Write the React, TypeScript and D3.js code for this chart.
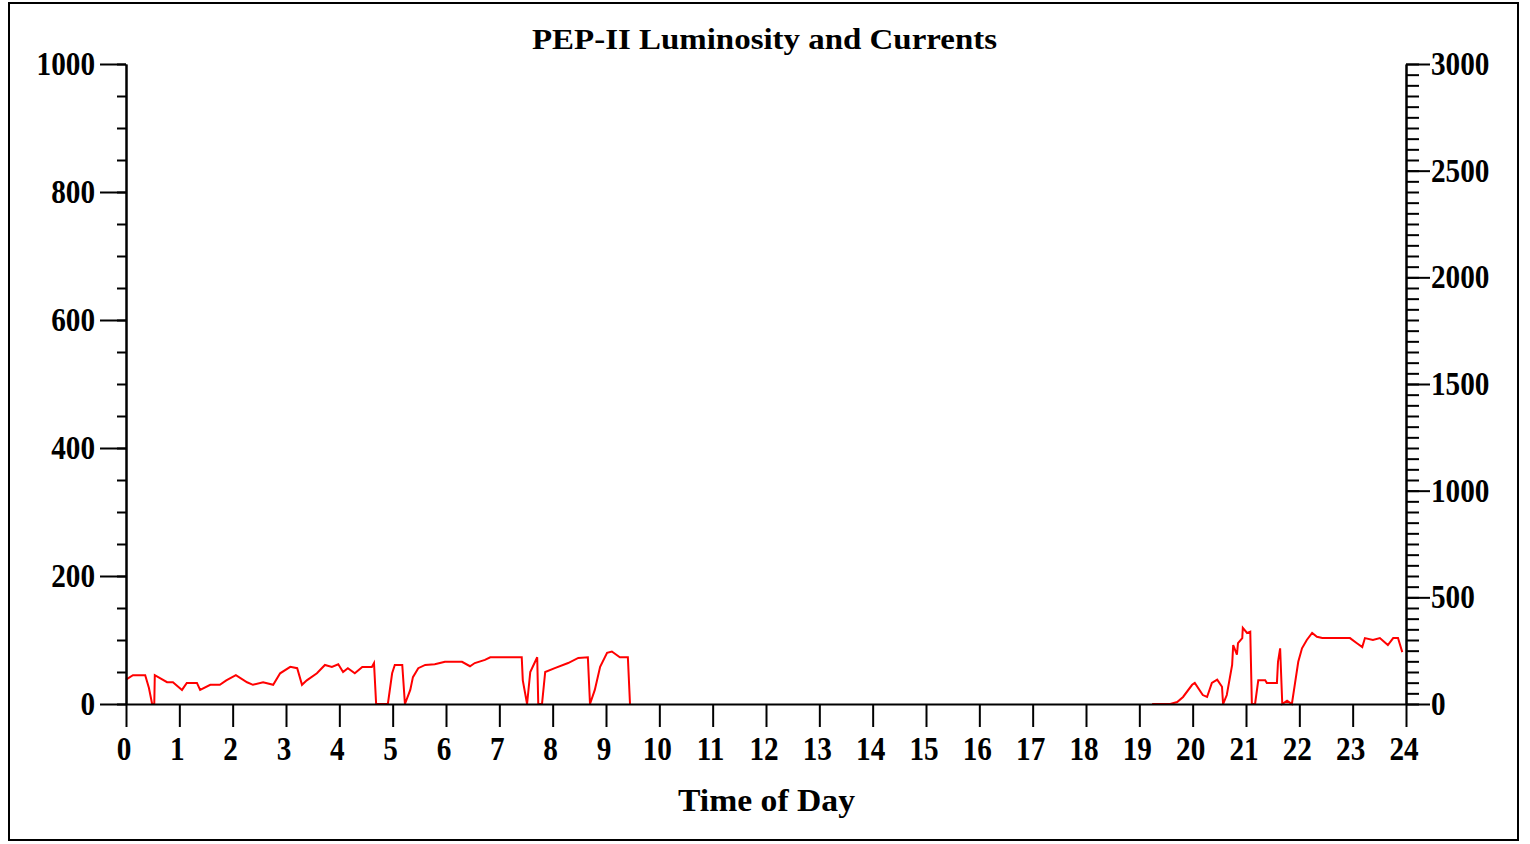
import { useEffect, useRef } from 'react';
import * as d3 from 'd3';

const hourTicks = d3.range(0, 25);
const leftTicks = [0, 200, 400, 600, 800, 1000];
const rightTicks = [0, 500, 1000, 1500, 2000, 2500, 3000];

// morning fill (hour of day, value on left axis)
const morningHours = [
  0.0, 0.13, 0.36, 0.43, 0.49, 0.53, 0.54, 0.77, 0.88, 1.05, 1.14, 1.33, 1.39, 1.58, 1.76, 1.88,
  2.06, 2.27, 2.38, 2.57, 2.76, 2.89, 3.08, 3.21, 3.3, 3.39, 3.58, 3.73, 3.86, 3.98, 4.07, 4.16,
  4.29, 4.43, 4.61, 4.65, 4.69, 4.91, 4.99, 5.04, 5.18, 5.23, 5.33, 5.38, 5.48, 5.61, 5.79, 5.98,
  6.3, 6.45, 6.54, 6.73, 6.83, 7.29, 7.42, 7.44, 7.52, 7.58, 7.71, 7.73, 7.8, 7.86, 8.04, 8.29,
  8.48, 8.66, 8.7, 8.79, 8.89, 9.02, 9.11, 9.26, 9.41, 9.45,
];
const morningValues = [
  38, 45, 45, 25, 0, 0, 45, 34, 34, 22, 33, 33, 22, 30, 30, 37,
  45, 34, 30, 34, 30, 48, 58, 56, 30, 37, 48, 61, 58, 62, 50, 56,
  48, 58, 58, 64, 0, 0, 48, 61, 61, 0, 22, 42, 56, 61, 62, 66,
  66, 59, 64, 69, 73, 73, 73, 37, 0, 50, 73, 0, 0, 50, 56, 64,
  72, 73, 0, 22, 58, 80, 82, 73, 73, 0,
];

// evening fill
const eveningHours = [
  19.24, 19.29, 19.58, 19.71, 19.82, 19.99, 20.04, 20.19, 20.27, 20.36, 20.46, 20.55, 20.57, 20.64,
  20.74, 20.76, 20.83, 20.85, 20.93, 20.94, 21.02, 21.08, 21.11, 21.17, 21.23, 21.36, 21.39, 21.58,
  21.6, 21.64, 21.68, 21.77, 21.86, 21.92, 21.98, 22.05, 22.14, 22.24, 22.33, 22.43, 22.95, 23.08,
  23.18, 23.23, 23.38, 23.51, 23.66, 23.76, 23.85, 23.93,
];
const eveningValues = [
  0, 0, 0, 3, 11, 30, 33, 14, 11, 33, 38, 27, 0, 14,
  61, 92, 77, 95, 103, 119, 111, 113, 0, 0, 37, 37, 33, 33,
  66, 87, 0, 5, 0, 33, 66, 87, 100, 111, 105, 103, 103, 95,
  89, 103, 100, 103, 92, 103, 103, 81,
];

const FONT = "'Liberation Serif', 'Times New Roman', serif";
const SX = 0.86;

export default function App() {
  const svgRef = useRef<SVGSVGElement>(null);

  useEffect(() => {
    if (!svgRef.current) return;
    const width = 1530;
    const height = 844;
    const left = 126, right = 1406, top = 64, bottom = 704;

    d3.select(svgRef.current).selectAll('*').remove();
    const svg = d3.select(svgRef.current).attr('width', width).attr('height', height);

    svg.append('rect').attr('width', width).attr('height', height).attr('fill', '#fff');

    // frame
    svg.append('rect')
      .attr('x', 9).attr('y', 3).attr('width', 1509).attr('height', 837)
      .attr('fill', 'none').attr('stroke', '#000').attr('stroke-width', 2);

    const x = d3.scaleLinear().domain([0, 24]).range([left, right]);
    const yL = d3.scaleLinear().domain([0, 1000]).range([bottom, top]);
    const yR = d3.scaleLinear().domain([0, 3000]).range([bottom, top]);

    const line = d3.line<[number, number]>()
      .x(d => x(d[0]))
      .y(d => yL(d[1]));

    [[morningHours, morningValues], [eveningHours, eveningValues]].forEach(([hs, vs]) => {
      svg.append('path')
        .datum(hs.map((h, i) => [h, vs[i]] as [number, number]))
        .attr('fill', 'none')
        .attr('stroke', '#ff0000')
        .attr('stroke-width', 2)
        .attr('d', line);
    });

    const styleAxis = (g: any) => {
      g.selectAll('path,line').attr('stroke', '#000').attr('stroke-width', 2);
      g.selectAll('text').remove();
    };

    // left axis: minor then major
    svg.append('g').attr('transform', `translate(${left},0)`)
      .call(d3.axisLeft(yL).tickValues(d3.range(0, 1001, 50)).tickSize(9).tickSizeOuter(0))
      .call(styleAxis);
    svg.append('g').attr('transform', `translate(${left},0)`)
      .call(d3.axisLeft(yL).tickValues(leftTicks).tickSize(26).tickSizeOuter(0))
      .call(styleAxis);

    // right axis
    svg.append('g').attr('transform', `translate(${right},0)`)
      .call(d3.axisRight(yR).tickValues(d3.range(0, 3001, 50)).tickSize(13).tickSizeOuter(0))
      .call(styleAxis);
    svg.append('g').attr('transform', `translate(${right},0)`)
      .call(d3.axisRight(yR).tickValues(rightTicks).tickSize(24).tickSizeOuter(0))
      .call(styleAxis);

    // bottom axis
    svg.append('g').attr('transform', `translate(0,${bottom})`)
      .call(d3.axisBottom(x).tickValues(hourTicks).tickSize(23).tickSizeOuter(0))
      .call(styleAxis);

    const label = (tx: number, ty: number, txt: string, anchor: string) => {
      svg.append('text')
        .attr('transform', `translate(${tx},${ty}) scale(${SX},1)`)
        .attr('text-anchor', anchor)
        .attr('font-family', FONT)
        .attr('font-weight', 'bold')
        .attr('font-size', 34)
        .attr('fill', '#000')
        .text(txt);
    };

    leftTicks.forEach(v => label(left - 31, yL(v) + 11, String(v), 'end'));
    rightTicks.forEach(v => label(right + 25, yR(v) + 11, String(v), 'start'));
    hourTicks.forEach(h => label(x(h) - 2, 760, String(h), 'middle'));

    svg.append('text')
      .attr('x', 532).attr('y', 49)
      .attr('textLength', 465).attr('lengthAdjust', 'spacingAndGlyphs')
      .attr('font-family', FONT).attr('font-weight', 'bold').attr('font-size', 29)
      .text('PEP-II Luminosity and Currents');

    svg.append('text')
      .attr('x', 678).attr('y', 811)
      .attr('textLength', 177).attr('lengthAdjust', 'spacingAndGlyphs')
      .attr('font-family', FONT).attr('font-weight', 'bold').attr('font-size', 31)
      .text('Time of Day');
  }, []);

  return (
    <svg ref={svgRef} style={{ position: 'absolute', left: 0, top: 0, display: 'block' }}></svg>
  );
}
